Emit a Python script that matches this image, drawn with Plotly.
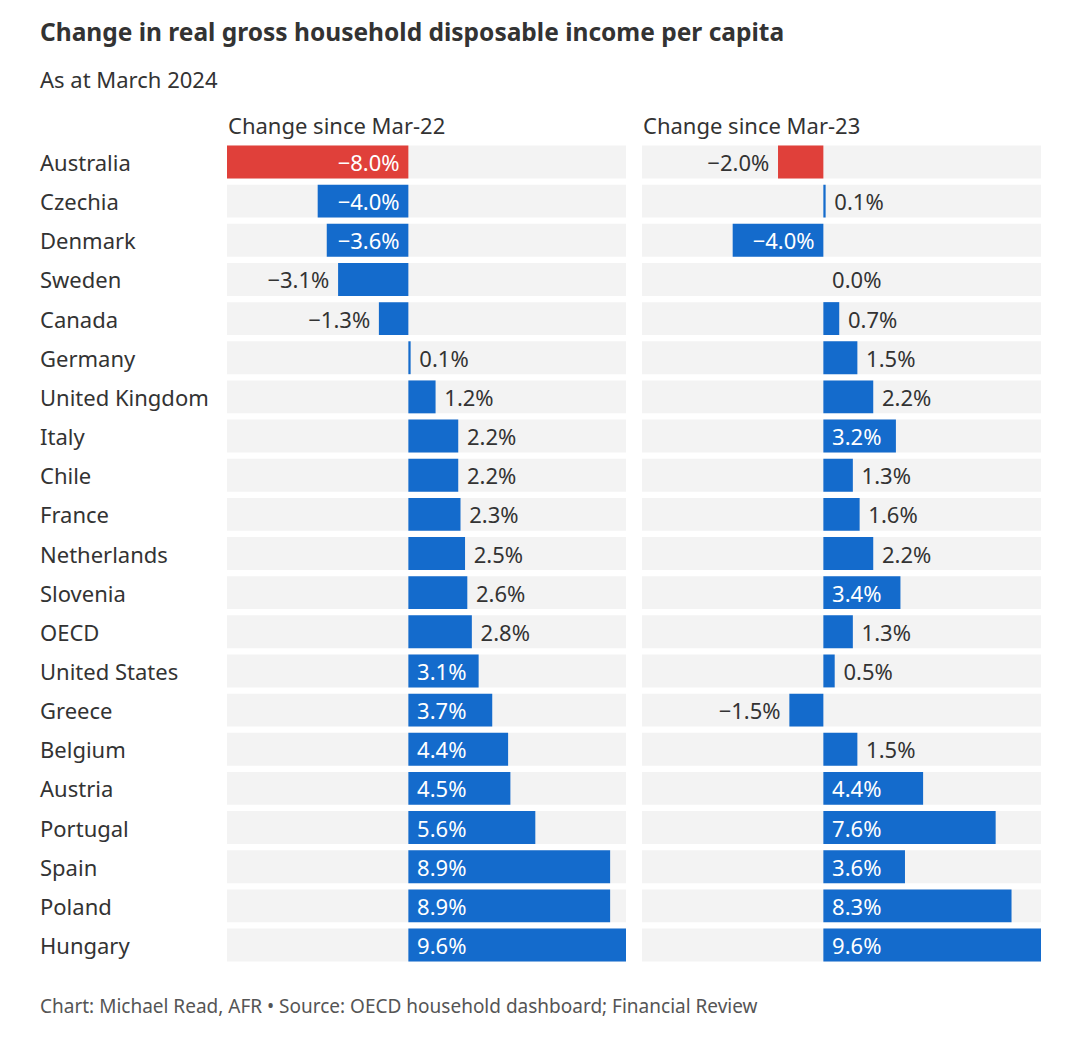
import plotly.graph_objects as go

countries = ["Australia", "Czechia", "Denmark", "Sweden", "Canada", "Germany",
             "United Kingdom", "Italy", "Chile", "France", "Netherlands", "Slovenia",
             "OECD", "United States", "Greece", "Belgium", "Austria", "Portugal",
             "Spain", "Poland", "Hungary"]
since_mar22 = [-8.0, -4.0, -3.6, -3.1, -1.3, 0.1, 1.2, 2.2, 2.2, 2.3, 2.5, 2.6,
               2.8, 3.1, 3.7, 4.4, 4.5, 5.6, 8.9, 8.9, 9.6]
since_mar23 = [-2.0, 0.1, -4.0, 0.0, 0.7, 1.5, 2.2, 3.2, 1.3, 1.6, 2.2, 3.4,
               1.3, 0.5, -1.5, 1.5, 4.4, 7.6, 3.6, 8.3, 9.6]
panel_titles = ["Change since Mar-22", "Change since Mar-23"]
x_min, x_max = -8.0, 9.6

BLUE = "#146bcc"
RED = "#e0403a"
BG = "#f3f3f3"
DARK = "#333333"
FONT = "Noto Sans"

W, H = 1080, 1049
OFF = 8  # page offset of the figure inside the browser window
def py(px):
    return 1 - (px - OFF) / H
def pxx(px):
    return (px - OFF) / W

fig = go.Figure()

NB = "\u00a0"
def fmt(v):
    s = f"{abs(v):.1f}%"
    s = ("\u2212" + s) if v < 0 else s
    return (s + NB) if v < 0 else (NB + s)

for i, vals in enumerate([since_mar22, since_mar23]):
    xa = "x" if i == 0 else "x2"
    ya = "y" if i == 0 else "y2"
    fig.add_trace(go.Bar(y=countries, x=[x_max - x_min] * len(countries), base=[x_min] * len(countries),
                         orientation="h", marker=dict(color=BG, line=dict(width=0)),
                         xaxis=xa, yaxis=ya, hoverinfo="skip", showlegend=False))
    colors = [RED if c == "Australia" else BLUE for c in countries]
    inside = [(v >= 3.0 or v <= -3.5) for v in vals]
    positions = ["inside" if f else "outside" for f in inside]
    texts = [fmt(v) for v in vals]
    fig.add_trace(go.Bar(y=countries, x=vals, orientation="h",
                         marker=dict(color=colors, line=dict(width=0)),
                         text=texts, textposition=positions,
                         insidetextanchor="start",
                         insidetextfont=dict(color="white", size=22, family=FONT),
                         outsidetextfont=dict(color=DARK, size=22, family=FONT),
                         cliponaxis=False,
                         xaxis=xa, yaxis=ya, showlegend=False))

ytop, ybot = 142.4, 964.6
common_x = dict(range=[x_min, x_max], showgrid=False, zeroline=False, showticklabels=False, fixedrange=True)
common_y = dict(range=[len(countries) - 0.5, -0.5], showgrid=False, zeroline=False,
                showticklabels=False, type="category", domain=[py(ybot), py(ytop)])
fig.update_layout(
    width=W, height=H,
    margin=dict(l=0, r=0, t=0, b=0),
    paper_bgcolor="white", plot_bgcolor="white",
    barmode="overlay", bargap=0.16,
    uniformtext=dict(minsize=22, mode="show"),
    font=dict(family=FONT, color=DARK),
    xaxis=dict(domain=[pxx(227), pxx(626)], **common_x),
    xaxis2=dict(domain=[pxx(642), pxx(1041)], anchor="y2", **common_x),
    yaxis=dict(anchor="x", **common_y),
    yaxis2=dict(anchor="x2", **common_y),
)

ann = []
ann.append(dict(text="<b>Change in real gross household disposable income per capita</b>",
                x=pxx(38), y=py(32), xref="paper", yref="paper", xanchor="left", yanchor="middle",
                showarrow=False, font=dict(size=24.5, color=DARK, family=FONT)))
ann.append(dict(text="As at March 2024", x=pxx(38), y=py(79), xref="paper", yref="paper",
                xanchor="left", yanchor="middle", showarrow=False, font=dict(size=22, color=DARK, family=FONT)))
for i, t in enumerate(panel_titles):
    ann.append(dict(text=t, x=pxx(226 if i == 0 else 641), y=py(125), xref="paper", yref="paper",
                    xanchor="left", yanchor="middle", showarrow=False, font=dict(size=22, color=DARK, family=FONT)))
for c in countries:
    ann.append(dict(text=c, x=pxx(38), y=c, xref="paper", yref="y", xanchor="left", yanchor="middle",
                    showarrow=False, font=dict(size=22, color=DARK, family=FONT)))
ann.append(dict(text="Chart: Michael Read, AFR \u2022 Source: OECD household dashboard; Financial Review",
                x=pxx(38), y=py(1006), xref="paper", yref="paper", xanchor="left", yanchor="middle",
                showarrow=False, font=dict(size=19, color="#555555", family=FONT)))
fig.update_layout(annotations=ann)

fig.write_html("out.html")
